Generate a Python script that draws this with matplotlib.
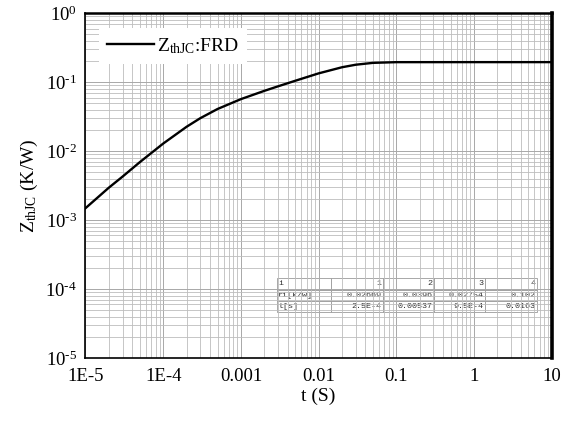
import matplotlib.pyplot as plt
import numpy as np

plt.rcParams['font.family'] = ['Liberation Serif', 'DejaVu Serif']
plt.rcParams['mathtext.fontset'] = 'custom'
plt.rcParams['mathtext.rm'] = 'Liberation Serif'
plt.rcParams['mathtext.it'] = 'Liberation Serif'

# curve points
t_vals = [1e-5, 2e-5, 3e-5, 5e-5, 1e-4, 2e-4, 3e-4, 5e-4, 1e-3, 2e-3, 3e-3,
          5e-3, 1e-2, 2e-2, 3e-2, 5e-2, 0.1, 1, 10]
z_vals = [0.00149, 0.00296, 0.00428, 0.00693, 0.0129, 0.0226, 0.0301, 0.0409,
          0.0569, 0.075, 0.0872, 0.105, 0.1345, 0.165, 0.1795, 0.1911, 0.1956,
          0.1958, 0.1958]

x_ticks = [1e-5, 1e-4, 1e-3, 1e-2, 0.1, 1, 10]
x_ticklabels = ['1E-5', '1E-4', '0.001', '0.01', '0.1', '1', '10']
y_ticks = [1e-5, 1e-4, 1e-3, 1e-2, 1e-1, 1]
y_ticklabels = ['$10^{\\text{-5}}$', '$10^{\\text{-4}}$', '$10^{\\text{-3}}$',
                '$10^{\\text{-2}}$', '$10^{\\text{-1}}$', '$10^{\\text{0}}$']

table_rows = [['i', '1', '2', '3', '4'],
              ['ri[k/w]', '0.02669', '0.0396', '0.02754', '0.102'],
              ['t[s]', '2.5E-4', '0.00537', '9.5E-4', '0.0163']]

fig = plt.figure(figsize=(5.65, 4.21), dpi=100)
ax = fig.add_axes([0.1513, 0.1496, 0.8252, 0.8188])

ax.plot(t_vals, z_vals, color='black', lw=1.7, label='Z$_{\\mathrm{thJC}}$:FRD')
ax.set_xscale('log')
ax.set_yscale('log')
ax.set_xlim(1e-5, 10)
ax.set_ylim(1e-5, 1)

ax.set_xticks(x_ticks)
ax.set_xticklabels(x_ticklabels)
ax.set_yticks(y_ticks)
ax.set_yticklabels(y_ticklabels)
ax.tick_params(which='both', length=0, labelsize=13.5, pad=6)
ax.tick_params(axis='x', pad=7)

ax.grid(which='major', color='#a8a8a8', lw=0.7)
ax.grid(which='minor', color='#bdbdbd', lw=0.6)
ax.set_axisbelow(True)

ax.spines['left'].set_linewidth(1.2)
ax.spines['bottom'].set_linewidth(1.2)
ax.spines['top'].set_linewidth(1.8)
ax.spines['right'].set_linewidth(2.6)

ax.set_xlabel('t (S)', fontsize=14, labelpad=2)
ax.set_ylabel('Z$_{\\mathrm{thJC}}$ (K/W)', fontsize=14, labelpad=4)

leg = ax.legend(loc='center left', fontsize=14, frameon=True, fancybox=False,
                handlelength=2.4, borderaxespad=0.0, handletextpad=0.15,
                bbox_to_anchor=(0.03, 0.905))
leg.get_frame().set_edgecolor('none')
leg.get_frame().set_facecolor('white')
leg.get_frame().set_alpha(1)

tab = ax.table(cellText=table_rows, bbox=[0.41, 0.134, 0.558, 0.097],
               colWidths=[1.06, 1, 1, 1, 1])
tab.auto_set_font_size(False)
for (r, c), cell in tab.get_celld().items():
    cell.set_edgecolor('#9a9a9a')
    cell.set_linewidth(0.6)
    cell.set_facecolor('white')
    txt = cell.get_text()
    txt.set_fontsize(6)
    txt.set_fontfamily('Liberation Mono')
    txt.set_color('#333333')
    cell.PAD = 0.03
    txt.set_ha('left' if c == 0 else 'right')

fig.savefig('out.png', dpi=100)
